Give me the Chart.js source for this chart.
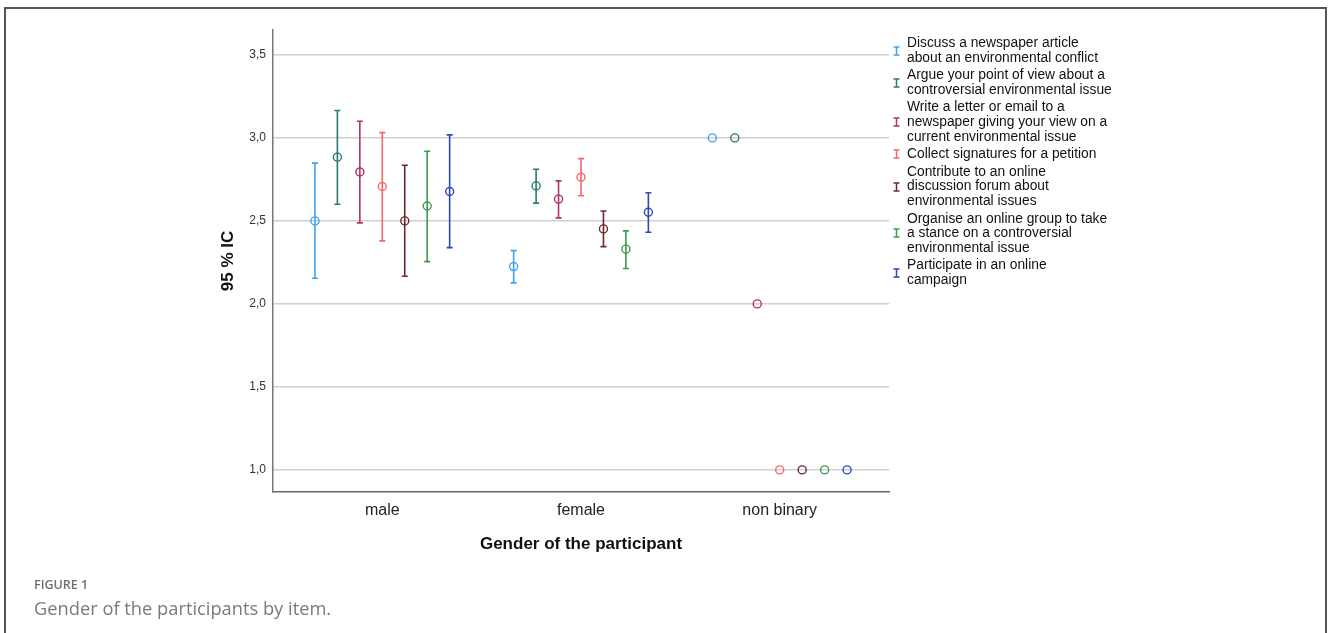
<!DOCTYPE html>
<html>
<head>
<meta charset="utf-8">
<script src="https://cdn.jsdelivr.net/npm/chart.js@4"></script>
<style>
  html, body { margin: 0; padding: 0; width: 1328px; height: 633px; overflow: hidden; background: #fff; }
  #frame { position: absolute; left: 4px; top: 7px; width: 1323px; height: 700px; border: 2px solid #555; border-bottom: none; box-sizing: border-box; }
  #chart { position: absolute; left: 0; top: 0; }
  #legend { position: absolute; left: 893px; top: 36px; font-family: "Liberation Sans", Arial, sans-serif; font-size: 13.8px; line-height: 14.6px; color: #111; }
  #legend .item { display: flex; align-items: center; margin-bottom: 3px; }
  #legend svg { flex: none; margin-right: 7px; }
  #caption { position: absolute; left: 34px; top: 576px; font-family: "Open Sans", sans-serif; color: #6f6f6f; }
  #caption .fig { font-size: 12.5px; font-weight: 600; line-height: 17px; }
  #caption .txt { font-size: 18.3px; line-height: 23px; margin-top: 3px; color: #7a7a7a; }
</style>
</head>
<body>
<div id="frame"></div>
<canvas id="chart" width="1328" height="633"></canvas>
<div id="legend"></div>
<div id="caption">
  <div class="fig">FIGURE 1</div>
  <div class="txt">Gender of the participants by item.</div>
</div>
<script>
// Groups on the horizontal axis
const genders = ['male', 'female', 'non binary'];

// Survey items (legend text, split into lines)
const items = [
  ['Discuss a newspaper article', 'about an environmental conflict'],
  ['Argue your point of view about a', 'controversial environmental issue'],
  ['Write a letter or email to a', 'newspaper giving your view on a', 'current environmental issue'],
  ['Collect signatures for a petition'],
  ['Contribute to an online', 'discussion forum about', 'environmental issues'],
  ['Organise an online group to take', 'a stance on a controversial', 'environmental issue'],
  ['Participate in an online', 'campaign']
];
const itemColors = ['#3fa4ee', '#2b7a70', '#ad3469', '#f6676b', '#6b2a2c', '#3b9a4f', '#2a4ab6'];

// Means and 95% confidence limits per item, by gender
const meanMale   = [2.50, 2.884, 2.795, 2.707, 2.50, 2.59, 2.677];
const lowerMale  = [2.155, 2.60, 2.488, 2.38, 2.167, 2.255, 2.339];
const upperMale  = [2.848, 3.165, 3.10, 3.032, 2.835, 2.92, 3.018];

const meanFemale  = [2.225, 2.711, 2.631, 2.763, 2.452, 2.33, 2.552];
const lowerFemale = [2.127, 2.607, 2.518, 2.652, 2.345, 2.213, 2.432];
const upperFemale = [2.321, 2.811, 2.741, 2.875, 2.56, 2.44, 2.67];

// single respondent: no interval
const meanNonBinary  = [3.0, 3.0, 2.0, 1.0, 1.0, 1.0, 1.0];
const lowerNonBinary = [null, null, null, null, null, null, null];
const upperNonBinary = [null, null, null, null, null, null, null];

const yTickValues = [1.0, 1.5, 2.0, 2.5, 3.0, 3.5];

const means  = [meanMale, meanFemale, meanNonBinary];
const lowers = [lowerMale, lowerFemale, lowerNonBinary];
const uppers = [upperMale, upperFemale, upperNonBinary];

// items are spread side by side around each group's centre
const spread = 0.113;
const mid = (items.length - 1) / 2;

const datasets = items.map((lines, i) => ({
  label: lines.join(' '),
  data: genders.map((g, gi) => ({ x: gi + (i - mid) * spread, y: means[gi][i] })),
  lower: genders.map((g, gi) => lowers[gi][i]),
  upper: genders.map((g, gi) => uppers[gi][i]),
  borderColor: itemColors[i],
  backgroundColor: 'rgba(0,0,0,0)',
  pointRadius: 4,
  pointBorderWidth: 1.4,
  showLine: false
}));

// Draws the confidence-interval whiskers with caps from each dataset's limits
const errorBars = {
  id: 'errorBars',
  beforeDatasetsDraw(chart) {
    const { ctx, scales: { x, y } } = chart;
    ctx.save();
    chart.data.datasets.forEach(ds => {
      ds.data.forEach((p, k) => {
        const lo = ds.lower[k], hi = ds.upper[k];
        if (lo == null || hi == null) return;
        const px = x.getPixelForValue(p.x);
        const pLo = y.getPixelForValue(lo);
        const pHi = y.getPixelForValue(hi);
        ctx.strokeStyle = ds.borderColor;
        ctx.lineWidth = 1.6;
        ctx.beginPath();
        ctx.moveTo(px, pLo); ctx.lineTo(px, pHi);
        ctx.moveTo(px - 3, pLo); ctx.lineTo(px + 3, pLo);
        ctx.moveTo(px - 3, pHi); ctx.lineTo(px + 3, pHi);
        ctx.stroke();
      });
    });
    ctx.restore();
  }
};

new Chart(document.getElementById('chart'), {
  type: 'scatter',
  data: { datasets },
  plugins: [errorBars],
  options: {
    responsive: false,
    animation: false,
    layout: { padding: { left: 0, top: 30, right: 439, bottom: 71 } },
    plugins: { legend: { display: false }, tooltip: { enabled: false } },
    scales: {
      x: {
        type: 'linear',
        min: -0.55,
        max: 2.55,
        afterBuildTicks: s => { s.ticks = genders.map((g, i) => ({ value: i })); },
        afterFit: s => { s.height = 70; },
        ticks: {
          callback: v => genders[v],
          font: { family: '"Liberation Sans", Arial, sans-serif', size: 16 },
          color: '#222',
          padding: 9
        },
        grid: { drawOnChartArea: false, drawTicks: false },
        border: { color: '#666', width: 1.5 },
        title: {
          display: true,
          text: 'Gender of the participant',
          font: { family: '"Liberation Sans", Arial, sans-serif', size: 17, weight: 'bold' },
          color: '#111',
          padding: { top: 0, bottom: 7.8 }
        }
      },
      y: {
        min: 0.867,
        max: 3.65,
        afterBuildTicks: s => { s.ticks = yTickValues.map(v => ({ value: v })); },
        afterFit: s => { s.width = 273; },
        ticks: {
          callback: v => v.toFixed(1).replace('.', ','),
          font: { family: '"Liberation Sans", Arial, sans-serif', size: 12 },
          color: '#333',
          padding: 7
        },
        grid: { color: '#d0d0d0', lineWidth: 1.5, drawTicks: false },
        border: { color: '#777', width: 1.5 },
        title: {
          display: true,
          text: '95 % IC',
          font: { family: '"Liberation Sans", Arial, sans-serif', size: 17, weight: 'bold' },
          color: '#111',
          padding: { top: 217.8, bottom: 0 }
        }
      }
    }
  }
});

// Legend with whisker glyphs
const legend = document.getElementById('legend');
items.forEach((lines, i) => {
  const row = document.createElement('div');
  row.className = 'item';
  const c = itemColors[i];
  row.innerHTML =
    '<svg width="7" height="10" viewBox="0 0 7 10"><path d="M0.5 1H6.5M3.5 1V9M0.5 9H6.5" stroke="' + c + '" stroke-width="1.5" fill="none"/></svg>' +
    '<div>' + lines.join('<br>') + '</div>';
  legend.appendChild(row);
});
</script>
</body>
</html>
